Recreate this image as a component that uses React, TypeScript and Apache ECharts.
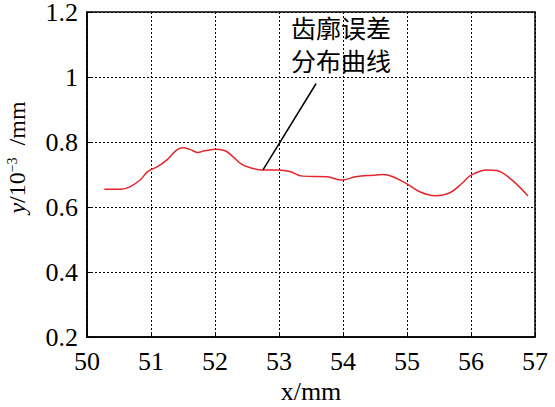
import React, { useEffect, useRef } from "react";
import * as echarts from "echarts";

const xValues = [50.27, 50.53, 50.67, 50.83, 50.95, 51.1, 51.25, 51.4, 51.5, 51.6, 51.73, 51.84, 52.03, 52.16, 52.28, 52.42, 52.55, 52.75, 53.0, 53.17, 53.37, 53.75, 53.98, 54.2, 54.47, 54.63, 54.78, 55.0, 55.2, 55.44, 55.67, 55.86, 56.0, 56.25, 56.4, 56.61, 56.89];
const yValues = [0.655, 0.655, 0.662, 0.683, 0.709, 0.724, 0.745, 0.775, 0.782, 0.778, 0.768, 0.773, 0.778, 0.773, 0.755, 0.731, 0.721, 0.714, 0.714, 0.709, 0.695, 0.693, 0.683, 0.693, 0.698, 0.7, 0.693, 0.671, 0.647, 0.635, 0.644, 0.673, 0.698, 0.714, 0.712, 0.688, 0.634];
const annotationFrom = [52.75, 0.714];
const annotationTo = [53.58, 0.98];
const annotationLines = ["齿廓误差", "分布曲线"];

export default function App() {
  const ref = useRef<HTMLDivElement>(null);
  useEffect(() => {
    const chart = echarts.init(ref.current!, null, { renderer: "svg" });
    const font = "Times New Roman";
    chart.setOption({
      animation: false,
      backgroundColor: "#fff",
      textStyle: { fontFamily: font },
      grid: {
        left: 87, right: 20, top: 12, bottom: 70,
        containLabel: false, outerBoundsMode: "none",
        show: true, borderColor: "#000", borderWidth: 1.5,
      },
      xAxis: {
        type: "value",
        min: 50,
        max: 57,
        interval: 1,
        name: "x/mm",
        nameLocation: "middle",
        nameGap: 38,
        nameTextStyle: { fontFamily: font, fontSize: 26, lineHeight: 24, color: "#000" },
        axisLine: { show: true, lineStyle: { color: "#000", width: 1.5 } },
        axisTick: { show: true, inside: true, length: 5, lineStyle: { color: "#000" } },
        axisLabel: { fontFamily: font, fontSize: 26, color: "#000", margin: 11 },
        splitLine: { show: true, lineStyle: { color: "#000", type: [2, 2], width: 1 } },
      },
      yAxis: {
        type: "value",
        min: 0.2,
        max: 1.2,
        interval: 0.2,
        name: "{i|y}{n|/10}{s|−3}{n|  /mm}",
        nameLocation: "middle",
        nameGap: 58,
        nameRotate: 90,
        nameTextStyle: {
          padding: [0, 0, 0, 34],
          rich: {
            i: { fontFamily: font, fontSize: 24, fontStyle: "italic", color: "#000" },
            n: { fontFamily: font, fontSize: 24, color: "#000" },
            s: { fontFamily: font, fontSize: 14, color: "#000", verticalAlign: "top", padding: [0, 0, 10, 0] },
          },
        },
        axisLine: { show: true, lineStyle: { color: "#000", width: 1.5 } },
        axisTick: { show: true, inside: true, length: 5, lineStyle: { color: "#000" } },
        axisLabel: { fontFamily: font, fontSize: 26, lineHeight: 22, color: "#000", margin: 9 },
        splitLine: { show: true, lineStyle: { color: "#000", type: [2, 2], width: 1 } },
      },
      series: [
        {
          type: "line",
          data: xValues.map((x, i) => [x, yValues[i]]),
          smooth: 0.4,
          showSymbol: false,
          lineStyle: { color: "#e3262e", width: 1.5 },
          markLine: {
            silent: true,
            symbol: ["none", "none"],
            label: { show: false },
            lineStyle: { color: "#000", type: "solid", width: 1.5 },
            data: [[{ coord: annotationFrom }, { coord: annotationTo }]],
          },
        },
      ],
      graphic: annotationLines.map((line, i) => ({
        type: "text",
        left: 291,
        top: 14 + i * 33,
        style: {
          text: line,
          fontFamily: "Noto Sans CJK SC",
          fontSize: 25,
          lineHeight: 26,
          fill: "#000",
        },
      })),
    });
    return () => chart.dispose();
  }, []);
  return <div ref={ref} style={{ width: 555, height: 407, position: "absolute", left: 0, top: 0 }} />;
}
